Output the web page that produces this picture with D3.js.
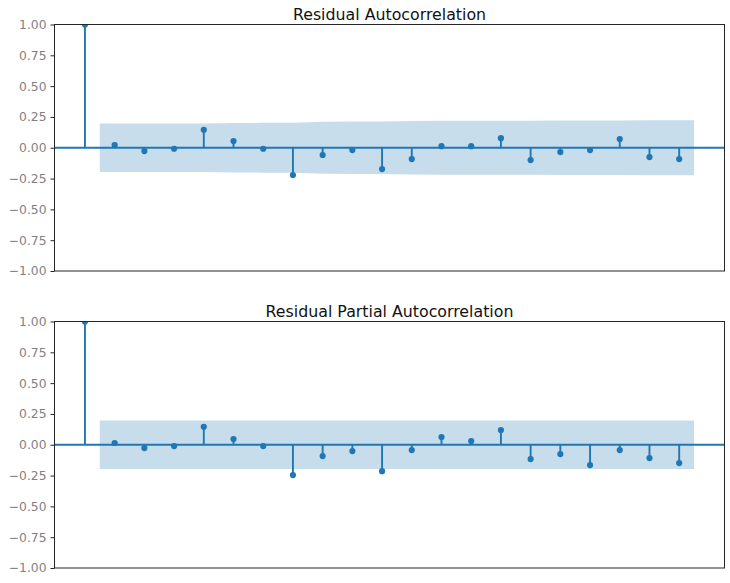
<!DOCTYPE html>
<html>
<head>
<meta charset="utf-8">
<script src="https://cdn.jsdelivr.net/npm/d3@7"></script>
<style>
  body { margin: 0; background: #fff; }
  svg { display: block; font-family: "DejaVu Sans", sans-serif; }
  .axis path, .axis line { stroke: #262626; }
  .axis text { fill: #808080; font-size: 12.3px; font-family: "DejaVu Sans", sans-serif; }
  .title { font-size: 15.8px; fill: #111; }
</style>
</head>
<body>
<div id="chart"></div>
<script>
// lags 0..20
const lags = [0, 1, 2, 3, 4, 5, 6, 7, 8, 9, 10, 11, 12, 13, 14, 15, 16, 17, 18, 19, 20];

// Residual ACF values
const acfValues = [1.0, 0.022, -0.027, -0.008, 0.146, 0.054, -0.008, -0.221, -0.059, -0.019,
  -0.173, -0.092, 0.013, 0.013, 0.078, -0.100, -0.035, -0.019, 0.070, -0.076, -0.092];

// half-width of the ACF confidence band at lags 1..20
const acfBand = [0.197, 0.197, 0.197, 0.197, 0.201, 0.202, 0.202, 0.211, 0.212, 0.212,
  0.217, 0.219, 0.219, 0.219, 0.220, 0.222, 0.222, 0.222, 0.223, 0.224];

// Residual PACF values
const pacfValues = [1.0, 0.014, -0.027, -0.011, 0.146, 0.046, -0.011, -0.246, -0.092, -0.051,
  -0.214, -0.043, 0.062, 0.030, 0.119, -0.116, -0.076, -0.165, -0.043, -0.108, -0.149];

// half-width of the PACF confidence band (same at every lag)
const pacfBand = [0.197, 0.197, 0.197, 0.197, 0.197, 0.197, 0.197, 0.197, 0.197, 0.197,
  0.197, 0.197, 0.197, 0.197, 0.197, 0.197, 0.197, 0.197, 0.197, 0.197];

const yTicks = [-1, -0.75, -0.5, -0.25, 0, 0.25, 0.5, 0.75, 1];

const W = 730, H = 583;
const color = '#1f77b4';

const svg = d3.select('#chart').append('svg')
  .attr('width', W)
  .attr('height', H);

const xScale = d3.scaleLinear()
  .domain([-1.025, 21.525])
  .range([54.5, 724.5]);

function drawPanel(id, top, height, title, values, band) {
  const yScale = d3.scaleLinear()
    .domain([-1, 1])
    .range([top + height, top]);

  const g = svg.append('g');

  g.append('clipPath')
    .attr('id', 'clip-' + id)
    .append('rect')
    .attr('x', xScale.range()[0])
    .attr('y', top)
    .attr('width', xScale.range()[1] - xScale.range()[0])
    .attr('height', height);

  const plot = g.append('g').attr('clip-path', `url(#clip-${id})`);

  // confidence band, lags 1..20 widened by half a lag at each end
  const bandLags = lags.slice(1).map((l, i, arr) =>
    i === 0 ? l - 0.5 : (i === arr.length - 1 ? l + 0.5 : l));
  const area = d3.area()
    .x((d, i) => xScale(bandLags[i]))
    .y0(d => yScale(-d))
    .y1(d => yScale(d));
  plot.append('path')
    .datum(band)
    .attr('d', area)
    .attr('fill', color)
    .attr('fill-opacity', 0.25);

  // stems
  plot.selectAll('.stem')
    .data(values)
    .enter().append('line')
    .attr('class', 'stem')
    .attr('x1', (d, i) => xScale(lags[i]))
    .attr('x2', (d, i) => xScale(lags[i]))
    .attr('y1', yScale(0))
    .attr('y2', d => yScale(d))
    .attr('stroke', color)
    .attr('stroke-width', 1.9);

  // zero line
  plot.append('line')
    .attr('x1', xScale.range()[0])
    .attr('x2', xScale.range()[1])
    .attr('y1', yScale(0))
    .attr('y2', yScale(0))
    .attr('stroke', color)
    .attr('stroke-width', 1.9);

  // markers
  plot.selectAll('.dot')
    .data(values)
    .enter().append('circle')
    .attr('class', 'dot')
    .attr('cx', (d, i) => xScale(lags[i]))
    .attr('cy', d => yScale(d))
    .attr('r', 3.1)
    .attr('fill', color);

  // y axis
  g.append('g')
    .attr('class', 'axis')
    .attr('transform', `translate(${xScale.range()[0]},0)`)
    .call(d3.axisLeft(yScale)
      .tickValues(yTicks)
      .tickFormat(d3.format('.2f'))
      .tickSize(4)
      .tickPadding(4))
    .attr('font-family', null)
    .attr('font-size', null)
    .call(a => a.select('.domain').remove());

  // frame
  g.append('rect')
    .attr('x', xScale.range()[0])
    .attr('y', top)
    .attr('width', xScale.range()[1] - xScale.range()[0])
    .attr('height', height)
    .attr('fill', 'none')
    .attr('stroke', '#262626')
    .attr('stroke-width', 1);

  g.append('text')
    .attr('class', 'title')
    .attr('x', (xScale.range()[0] + xScale.range()[1]) / 2)
    .attr('y', top - 5)
    .attr('text-anchor', 'middle')
    .text(title);
}

drawPanel('acf', 24.5, 246.5, 'Residual Autocorrelation', acfValues, acfBand);
drawPanel('pacf', 321.5, 246.5, 'Residual Partial Autocorrelation', pacfValues, pacfBand);
</script>
</body>
</html>
